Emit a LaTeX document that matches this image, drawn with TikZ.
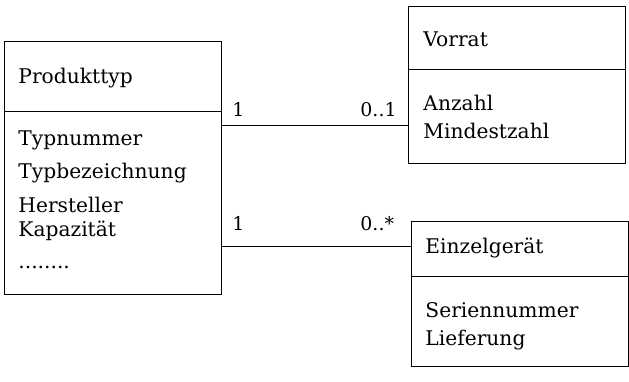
\documentclass[tikz,border=0pt]{standalone}
\usepackage{fontspec}
\setmainfont{DejaVu Serif}
\begin{document}
\begin{tikzpicture}[x=1bp,y=-1bp,line width=0.9bp,
  txt/.style={anchor=base west,inner sep=0pt,font=\fontsize{20.3}{24}\selectfont},
  lbl/.style={anchor=base west,inner sep=0pt,font=\fontsize{19}{22}\selectfont},
  cls/.style={draw,inner sep=0pt}]
\useasboundingbox (0,0) rectangle (629,381);
% Produkttyp
\node[cls,minimum width=217bp,minimum height=253bp,anchor=north west] (P) at (4,41) {};
\draw (4,111) -- (221,111);
\node[txt] (p0) at (18,83) {Produkttyp};
\node[txt] (p1) at (18,145) {Typnummer};
\node[txt] (p2) at (18,178) {Typbezeichnung};
\node[txt] (p3) at (18,212) {Hersteller};
\node[txt] (p4) at (18,236) {Kapazität};
\node[txt] (p5) at (18,268) {........};
% Vorrat
\node[cls,minimum width=217bp,minimum height=157bp,anchor=north west] (V) at (408,6) {};
\draw (408,69) -- (625,69);
\node[txt] (v0) at (423,46) {Vorrat};
\node[txt] (v1) at (423,110) {Anzahl};
\node[txt] (v2) at (423,138) {Mindestzahl};
% Einzelgeraet
\node[cls,minimum width=217bp,minimum height=145bp,anchor=north west] (E) at (411,221) {};
\draw (411,276) -- (628,276);
\node[txt] (e0) at (425,253) {Einzelgerät};
\node[txt] (e1) at (425,317) {Seriennummer};
\node[txt] (e2) at (425,345) {Lieferung};
% connectors
\coordinate (a1) at (221,125);
\coordinate (a2) at (408,125);
\coordinate (b1) at (221,246);
\coordinate (b2) at (411,246);
\draw (a1) -- (a2);
\draw (b1) -- (b2);
\node[lbl] (m1) at (232,116) {1};
\node[lbl] (m2) at (360,116) {0..1};
\node[lbl] (m3) at (232,230) {1};
\node[lbl] (m4) at (360,230) {0..*};
\end{tikzpicture}
\end{document}
